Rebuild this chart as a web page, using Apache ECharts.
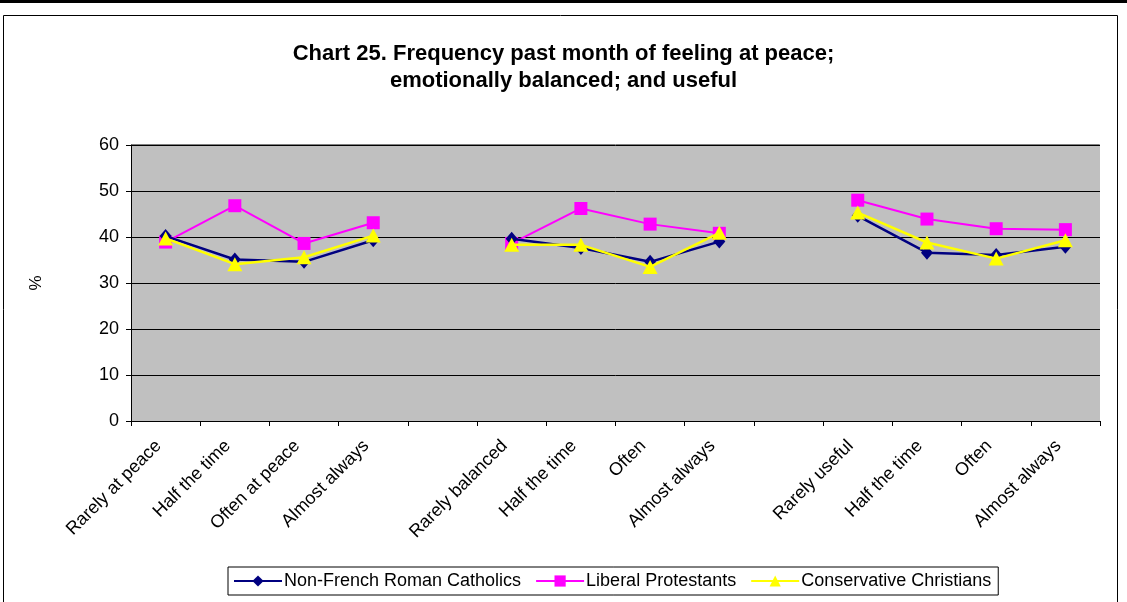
<!DOCTYPE html>
<html><head><meta charset="utf-8">
<script src="https://cdn.jsdelivr.net/npm/echarts@6/dist/echarts.min.js"></script>
<style>html,body{margin:0;padding:0;background:#fff;}#c{width:1127px;height:602px;}</style>
</head><body><div id="c"></div>
<script>
const categories = ['Rarely at peace','Half the time','Often at peace','Almost always','',
  'Rarely balanced','Half the time','Often','Almost always','',
  'Rarely useful','Half the time','Often','Almost always'];
const nonFrenchRC = [40.2,35.1,34.6,39.3,null,39.6,37.6,34.6,39.0,null,44.6,36.6,36.1,37.9];
const liberalProt = [38.9,46.8,38.6,43.1,null,38.6,46.2,42.8,40.8,null,48.0,43.9,41.8,41.6];
const conservChr  = [39.7,34.1,35.6,40.3,null,38.3,38.3,33.5,40.9,null,45.3,38.8,35.3,39.3];
const yTicks = [0,10,20,30,40,50,60];
const seriesNames = ['Non-French Roman Catholics','Liberal Protestants','Conservative Christians'];

const font = 'Liberation Sans, Arial, sans-serif';
const chart = echarts.init(document.getElementById('c'));
chart.setOption({
  animation:false,
  backgroundColor:'#fff',
  title:{
    text:'Chart 25. Frequency past month of feeling at peace;\nemotionally balanced; and useful',
    left:'center', top:35,
    textStyle:{fontFamily:font,fontSize:22,fontWeight:'bold',color:'#000',lineHeight:27}
  },
  graphic:[
    {type:'rect',shape:{x:0,y:0,width:1127,height:3},style:{fill:'#000'}},
    {type:'rect',shape:{x:3.5,y:15.5,width:1114,height:600},style:{fill:'none',stroke:'#000',lineWidth:1}},
    {type:'rect',shape:{x:131.5,y:144.5,width:968,height:276},style:{fill:'none',stroke:'#808080',lineWidth:1},z:-1}
  ],
  grid:{left:131,right:27,top:145,bottom:181,backgroundColor:'#C0C0C0',show:true,borderWidth:0},
  legend:{
    top:567, left:228,
    data:seriesNames,
    itemWidth:48, itemHeight:14, itemGap:14,
    padding:[5,7,5,5],
    borderColor:'#000', borderWidth:1, borderRadius:0,
    textStyle:{fontFamily:font,fontSize:18,color:'#000',padding:[0,0,0,-3]}
  },
  xAxis:{
    type:'category', data:categories, boundaryGap:true,
    axisLine:{lineStyle:{color:'#000',width:1}},
    axisTick:{show:true,length:5,lineStyle:{color:'#000'},alignWithLabel:false},
    axisLabel:{rotate:45,interval:0,fontFamily:font,fontSize:18,color:'#000',margin:15,padding:[0,10,0,0]}
  },
  yAxis:{
    type:'value', min:0, max:60, interval:10,
    name:'%', nameLocation:'middle', nameGap:86, nameRotate:90,
    nameTextStyle:{fontFamily:font,fontSize:17,color:'#000'},
    axisLine:{show:true,lineStyle:{color:'#000',width:1}},
    axisTick:{show:true,length:5,lineStyle:{color:'#000'}},
    axisLabel:{fontFamily:font,fontSize:18,color:'#000',margin:12,
      formatter:function(v){return yTicks.indexOf(v)>=0?String(v):'';}},
    splitLine:{show:true,lineStyle:{color:'#000',width:1}}
  },
  series:[
    {name:seriesNames[0],type:'line',data:nonFrenchRC,connectNulls:false,
     symbol:'diamond',symbolSize:[12,14],
     lineStyle:{color:'#000080',width:2.5},itemStyle:{color:'#000080'},z:3},
    {name:seriesNames[1],type:'line',data:liberalProt,connectNulls:false,
     symbol:'rect',symbolSize:13,
     lineStyle:{color:'#FF00FF',width:2},itemStyle:{color:'#FF00FF'},z:2},
    {name:seriesNames[2],type:'line',data:conservChr,connectNulls:false,
     symbol:'triangle',symbolSize:[15,14],
     lineStyle:{color:'#FFFF00',width:2.5},itemStyle:{color:'#FFFF00'},z:4}
  ]
});
</script></body></html>
